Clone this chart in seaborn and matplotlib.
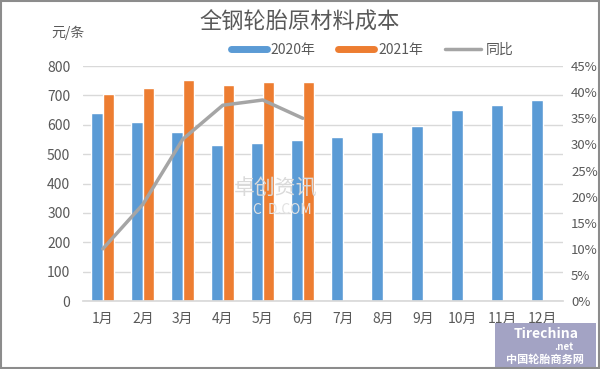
import pandas as pd
import seaborn as sns
from matplotlib import pyplot as plt
from matplotlib.lines import Line2D
from matplotlib.patches import Rectangle

months = ['1月', '2月', '3月', '4月', '5月', '6月', '7月', '8月', '9月', '10月', '11月', '12月']
cost_2020 = [640, 610, 575, 532, 537, 548, 558, 575, 595, 650, 667, 684]
cost_2021 = [705, 724, 752, 735, 745, 745]
yoy = [10.0, 18.5, 31.0, 37.5, 38.5, 35.0]

BLUE = '#5B9BD5'
ORANGE = '#ED7D31'
GRAY = '#A5A5A5'
TXT = '#595959'

sns.set_theme(style='white')
plt.rcParams['font.family'] = ['Noto Sans CJK SC', 'DejaVu Sans']

rows = []
for i, m in enumerate(months):
    rows.append({'month': m, 'year': '2020年', 'cost': cost_2020[i]})
    rows.append({'month': m, 'year': '2021年',
                 'cost': cost_2021[i] if i < len(cost_2021) else float('nan')})
df = pd.DataFrame(rows)

fig = plt.figure(figsize=(6, 3.69), dpi=100)
ax = fig.add_axes([0.138, 0.184, 0.800, 0.637])

sns.barplot(data=df, x='month', y='cost', hue='year', order=months,
            palette=[BLUE, ORANGE], width=0.58, gap=0, ax=ax, legend=False,
            saturation=1, zorder=2)
ax.set_ylim(0, 800)
ax.set_yticks(range(0, 801, 100))
ax.set_xlim(-0.5, 11.5)
ax.set_xlabel('')
ax.set_ylabel('')
ax.grid(axis='y', color='#D9D9D9', linewidth=1, zorder=0)
ax.set_axisbelow(True)
for s in ['top', 'left', 'right']:
    ax.spines[s].set_visible(False)
ax.spines['bottom'].set_color('#D9D9D9')
ax.tick_params(axis='both', colors=TXT, labelsize=10, length=0, pad=8)
ax.tick_params(axis='y', pad=9)

ax2 = ax.twinx()
sns.lineplot(x=list(range(len(yoy))), y=yoy, color=GRAY, linewidth=2.5, ax=ax2)
ax2.set_ylim(0, 45)
ax2.set_yticks(range(0, 46, 5))
ax2.set_yticklabels([f'{v}%' for v in range(0, 46, 5)])
for s in ['top', 'left', 'right', 'bottom']:
    ax2.spines[s].set_visible(False)
ax2.tick_params(axis='y', colors=TXT, labelsize=9.5, length=0, pad=6)
ax2.grid(False)

# watermark
fig.text(0.46, 0.49, '卓创资讯', fontsize=15, color='#DADADA', ha='center', va='center', zorder=0)
fig.text(0.47, 0.43, 'C  D.COM', fontsize=10, color='#E2E2E2', ha='center', va='center', zorder=0)

fig.text(0.5, 0.94, '全钢轮胎原材料成本', fontsize=16, color=TXT, ha='center', va='center')
fig.text(0.085, 0.91, '元/条', fontsize=10, color=TXT, ha='left', va='center')

handles = [Line2D([], [], color=BLUE, linewidth=5),
           Line2D([], [], color=ORANGE, linewidth=5),
           Line2D([], [], color=GRAY, linewidth=2.5)]
fig.legend(handles, ['2020年', '2021年', '同比'], loc='center', ncol=3,
           bbox_to_anchor=(0.62, 0.865), frameon=False, fontsize=10,
           labelcolor=TXT, handlelength=2.6, columnspacing=1.6, handletextpad=0.3)

# logo box
fig.patches.append(Rectangle((0.825, 0.005), 0.168, 0.12, transform=fig.transFigure,
                             facecolor='#A3A3C4', edgecolor='none', zorder=5))
fig.text(0.91, 0.095, 'Tirechina', fontsize=10, color='white', fontweight='bold',
         style='italic', ha='center', va='center', zorder=6)
fig.text(0.94, 0.06, '.net', fontsize=7, color='white', fontweight='bold',
         style='italic', ha='center', va='center', zorder=6)
fig.text(0.909, 0.025, '中国轮胎商务网', fontsize=8, color='white', fontweight='bold',
         ha='center', va='center', zorder=6)

# border
fig.patches.append(Rectangle((0.002, 0.003), 0.996, 0.994, transform=fig.transFigure,
                             facecolor='none', edgecolor='#8C8C8C', linewidth=1.5, zorder=7))

fig.savefig('out.png', dpi=100)
